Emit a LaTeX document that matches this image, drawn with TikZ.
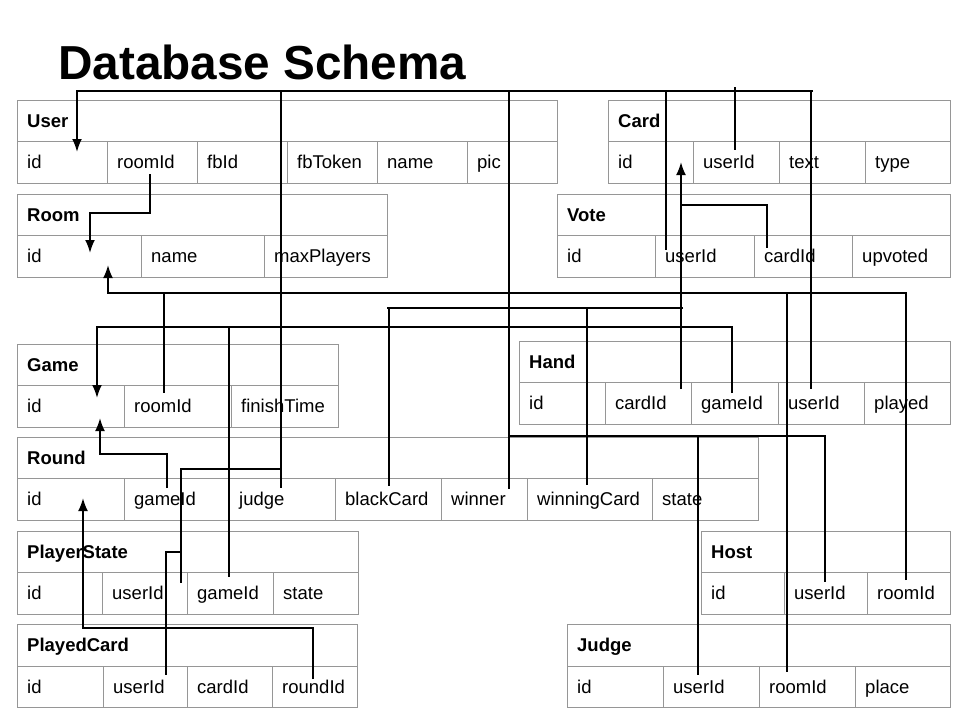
\documentclass[tikz,border=0pt]{standalone}
\usepackage{fontspec}
\setmainfont{Liberation Sans}
\usetikzlibrary{arrows.meta}
\definecolor{cellgray}{RGB}{150,150,150}
\tikzset{
  cellbox/.style={draw=cellgray, line width=0.9pt, anchor=north west, inner sep=0pt, outer sep=0pt},
  hdrtxt/.style={anchor=base west, inner sep=0pt, font=\bfseries\fontsize{18.5}{20}\selectfont},
  celltxt/.style={anchor=base west, inner sep=0pt, font=\fontsize{18.5}{20}\selectfont},
  conn/.style={draw=black, line width=2pt},
  arr/.style={conn, -{Latex[length=13pt,width=10pt]}},
}
\newcommand{\tabhead}[6]{%
  \node[cellbox, minimum width=#5, minimum height=#6] (#1) at (#3,#4) {};
  \node[hdrtxt] (#1-title) at ([xshift=10pt,yshift=-6.6pt]#1.west) {#2};}
\newcommand{\tabfields}[4]{%
  \foreach \cx/\cw/\cn in {#4} {%
    \node[cellbox, minimum width=\cw, minimum height=#3] (#1-\cn) at (\cx,#2) {};
    \node[celltxt] (#1-\cn-t) at ([xshift=10pt,yshift=-6.6pt]#1-\cn.west) {\cn};}}
\begin{document}
\begin{tikzpicture}[x=1pt,y=-1pt]
\useasboundingbox (0,0) rectangle (960,720);
\node[anchor=base west, inner sep=0pt, font=\bfseries\fontsize{47.7}{52}\selectfont] (title) at (58,79) {Database Schema};

% User
\tabhead{user}{User}{17}{100}{540}{41}
\tabfields{user}{141}{42}{17/90/id,107/90/roomId,197/90/fbId,287/90/fbToken,377/90/name,467/90/pic}
% Room
\tabhead{room}{Room}{17}{194}{370}{41}
\tabfields{room}{235}{42}{17/124/id,141/123/name,264/123/maxPlayers}
% Card
\tabhead{card}{Card}{608}{100}{342}{41}
\tabfields{card}{141}{42}{608/85/id,693/86/userId,779/86/text,865/85/type}
% Vote
\tabhead{vote}{Vote}{557}{194}{393}{41}
\tabfields{vote}{235}{42}{557/98/id,655/99/userId,754/98/cardId,852/98/upvoted}
% Game
\tabhead{game}{Game}{17}{344}{321}{41}
\tabfields{game}{385}{42}{17/107/id,124/107/roomId,231/107/finishTime}
% Hand
\tabhead{hand}{Hand}{519}{341}{431}{41}
\tabfields{hand}{382}{42}{519/86/id,605/86/cardId,691/87/gameId,778/86/userId,864/86/played}
% Round
\tabhead{round}{Round}{17}{437}{741}{41}
\tabfields{round}{478}{42}{17/107/id,124/105/gameId,229/106/judge,335/106/blackCard,441/86/winner,527/125/winningCard,652/106/state}
% PlayerState
\tabhead{pstate}{PlayerState}{17}{531}{341}{41}
\tabfields{pstate}{572}{42}{17/85/id,102/85/userId,187/86/gameId,273/85/state}
% PlayedCard
\tabhead{pcard}{PlayedCard}{17}{624}{340}{42}
\tabfields{pcard}{666}{41}{17/86/id,103/84/userId,187/85/cardId,272/85/roundId}
% Host
\tabhead{host}{Host}{701}{531}{249}{41}
\tabfields{host}{572}{42}{701/83/id,784/83/userId,867/83/roomId}
% Judge
\tabhead{judge}{Judge}{567}{624}{383}{42}
\tabfields{judge}{666}{41}{567/96/id,663/96/userId,759/96/roomId,855/95/place}

% connector end points
\coordinate (uidTip) at (77,152);
\coordinate (busEnd) at (813,91);
\coordinate (rJudge) at (281,488);
\coordinate (psUser) at (181,583);
\coordinate (pcUser) at (166,675);
\coordinate (rWinner) at (509,489);
\coordinate (hostUser) at (825,582);
\coordinate (judgeUser) at (698,675);
\coordinate (voteUser) at (666,250);
\coordinate (cardUser) at (735,87);
\coordinate (handUser) at (811,389);
\coordinate (uRoom) at (150,174);
\coordinate (roomTip1) at (90,253);
\coordinate (roomTip2) at (108,265);
\coordinate (hostRoom) at (906,580);
\coordinate (gameRoom) at (164,393);
\coordinate (judgeRoom) at (787,672);
\coordinate (cardTip) at (681,162);
\coordinate (handCard) at (681,389);
\coordinate (voteCard) at (767,248);
\coordinate (rBlack) at (389,486);
\coordinate (rWinCard) at (587,485);
\coordinate (handGame) at (732,393);
\coordinate (gameTip1) at (97,398);
\coordinate (psGame) at (229,577);
\coordinate (rGame) at (167,488);
\coordinate (gameTip2) at (100,418);
\coordinate (pcRound) at (313,679);
\coordinate (roundTip) at (83,498);

% User.id
\draw[arr] (busEnd) -- (77,91) -- (uidTip);
\draw[conn] (281,91) -- (rJudge);
\draw[conn] (281,469) -- (181,469) -- (psUser);
\draw[conn] (181,552) -- (166,552) -- (pcUser);
\draw[conn] (509,91) -- (rWinner);
\draw[conn] (509,436) -- (825,436) -- (hostUser);
\draw[conn] (698,436) -- (judgeUser);
\draw[conn] (666,91) -- (voteUser);
\draw[conn] (cardUser) -- (735,150);
\draw[conn] (811,91) -- (handUser);
% Room.id
\draw[arr] (uRoom) -- (150,213) -- (90,213) -- (roomTip1);
\draw[arr] (hostRoom) -- (906,293) -- (108,293) -- (roomTip2);
\draw[conn] (164,293) -- (gameRoom);
\draw[conn] (787,293) -- (judgeRoom);
% Card.id
\draw[arr] (handCard) -- (cardTip);
\draw[conn] (681,205) -- (767,205) -- (voteCard);
\draw[conn] (683,308) -- (387,308);
\draw[conn] (389,308) -- (rBlack);
\draw[conn] (587,308) -- (rWinCard);
% Game.id
\draw[arr] (handGame) -- (732,327) -- (97,327) -- (gameTip1);
\draw[conn] (229,327) -- (psGame);
\draw[arr] (rGame) -- (167,454) -- (100,454) -- (gameTip2);
% Round.id
\draw[arr] (pcRound) -- (313,628) -- (83,628) -- (roundTip);
\end{tikzpicture}
\end{document}
